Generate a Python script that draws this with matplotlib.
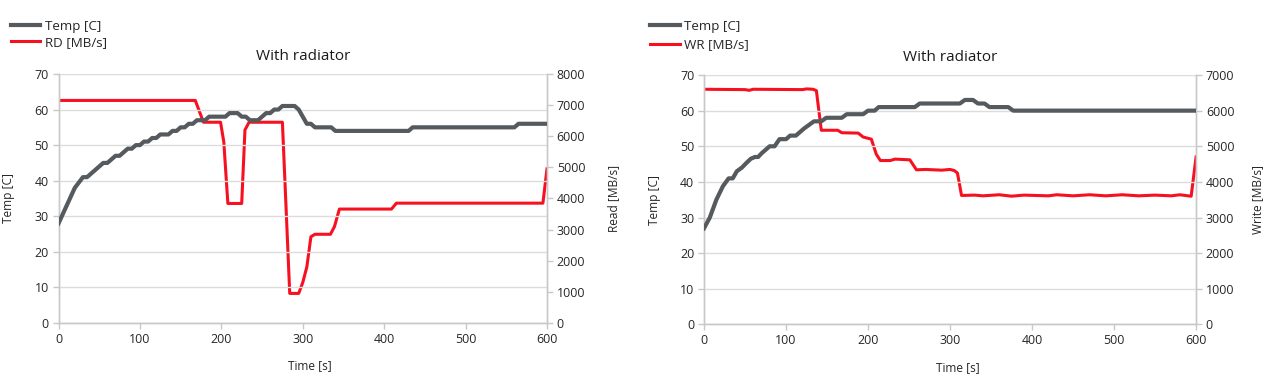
import matplotlib
matplotlib.use("Agg")
import matplotlib.pyplot as plt
from matplotlib.lines import Line2D

plt.rcParams['font.family'] = ['Open Sans', 'DejaVu Sans']

# ---- left panel: read test ----
rd_temp_t = [0, 5, 10, 15, 20, 25, 30, 35, 40, 45, 50, 55, 60, 65, 70, 75, 80, 85, 90, 95,
             100, 105, 110, 115, 120, 125, 135, 140, 145, 150, 155, 160, 165, 170, 180, 185,
             205, 210, 220, 225, 230, 235, 245, 250, 255, 260, 265, 270, 275, 290, 295, 300,
             305, 310, 315, 335, 340, 430, 435, 560, 565, 600]
rd_temp = [28, 30.5, 33, 35.5, 38, 39.5, 41, 41, 42, 43, 44, 45, 45, 46, 47, 47, 48, 49, 49, 50,
           50, 51, 51, 52, 52, 53, 53, 54, 54, 55, 55, 56, 56, 57, 57, 58,
           58, 59, 59, 58, 58, 57, 57, 58, 59, 59, 60, 60, 61, 61, 60, 58,
           56, 56, 55, 55, 54, 54, 55, 55, 56, 56]

rd_t = [0, 168, 173, 178, 199, 203, 208, 225, 229, 234, 275, 284, 295, 300, 305, 310,
        315, 334, 339, 345, 409, 415, 595, 600]
rd_mbs = [7150, 7150, 6800, 6450, 6450, 5820, 3840, 3840, 6200, 6450, 6450, 950, 950, 1300, 1800, 2770,
          2850, 2850, 3100, 3660, 3660, 3850, 3850, 4950]

# ---- right panel: write test ----
wr_temp_t = [0, 7, 15, 23, 30, 35, 40, 46, 52, 57, 62, 66, 70, 75, 80, 86, 92, 100, 105, 112,
             117, 122, 128, 134, 143, 149, 168, 174, 194, 200, 208, 213, 257, 263, 312, 318,
             328, 334, 342, 348, 371, 377, 600]
wr_temp = [27, 30, 35, 38.8, 41, 41, 43, 44, 45.4, 46.5, 47, 47, 48, 49, 50, 50, 52, 52, 53, 53,
           54, 55, 56, 57, 57, 58, 58, 59, 59, 60, 60, 61, 61, 62, 62, 63,
           63, 62, 62, 61, 61, 60, 60]

wr_t = [0, 50, 55, 60, 120, 125, 133, 137, 140, 143, 163, 168, 188, 194, 204, 210, 215, 227,
        233, 251, 255, 259, 270, 290, 300, 305, 309, 314, 330, 340, 360, 375, 390, 420, 430,
        450, 470, 490, 510, 530, 550, 570, 580, 594, 600]
wr_mbs = [6600, 6590, 6570, 6600, 6590, 6610, 6600, 6560, 6000, 5450, 5450, 5380, 5370, 5260, 5200,
          4780, 4600, 4600, 4640, 4620, 4480, 4340, 4350, 4330, 4350, 4320, 4250, 3620, 3630,
          3610, 3640, 3600, 3630, 3610, 3640, 3610, 3640, 3610, 3640, 3610, 3630, 3610, 3640,
          3600, 4700]

temp_ticks = list(range(0, 71, 10))
rd_ticks = list(range(0, 8001, 1000))
wr_ticks = list(range(0, 7001, 1000))

GRAY = '#555a5e'
RED = '#f7101f'
GRID = '#dcdcdc'
SPINE = '#c8c8c8'
TXT = '#262626'


def draw_panel(fig, rect, temp_t, temp, speed_t, speed, speed_ticks,
               speed_name, speed_label, right_lab_x, left_lab_x, leg_x, leg_gap):
    ax = fig.add_axes(rect)
    ax2 = ax.twinx()

    ax.plot(temp_t, temp, color=GRAY, lw=3.0, solid_joinstyle='round', zorder=3)
    ax2.plot(speed_t, speed, color=RED, lw=2.2, solid_joinstyle='round')
    # keep temperature on top like the original
    ax.set_zorder(ax2.get_zorder() + 1)
    ax.patch.set_visible(False)

    ax.set_xlim(0, 600)
    ax.set_ylim(0, 70)
    ax.set_yticks(temp_ticks)
    ax.set_xticks(range(0, 601, 100))
    ax2.set_ylim(0, speed_ticks[-1])
    ax2.set_yticks(speed_ticks)

    ax.grid(axis='y', color=GRID, lw=1.0)
    ax.set_axisbelow(True)

    for a in (ax, ax2):
        a.spines['top'].set_visible(False)
        for side in ('left', 'bottom', 'right'):
            a.spines[side].set_color(SPINE)
            a.spines[side].set_linewidth(1.0)
        a.tick_params(length=4, width=1, color=SPINE, labelsize=8.9,
                      labelcolor=TXT, pad=3)

    ax.set_title('With radiator', fontsize=11, color='#1a1a1a', pad=10)
    ax.set_xlabel('Time [s]', fontsize=8.6, color=TXT)
    ax.xaxis.set_label_coords(0.515, -0.145)
    ax.set_ylabel('Temp [C]', fontsize=8.6, color=TXT)
    ax.yaxis.set_label_coords(left_lab_x, 0.5)
    ax2.set_ylabel(speed_label, fontsize=8.6, color=TXT)
    ax2.yaxis.set_label_coords(right_lab_x, 0.5)

    handles = [Line2D([], [], color=GRAY, lw=3.0),
               Line2D([], [], color=RED, lw=2.2)]
    fig.legend(handles, ['Temp [C]', speed_name], loc='upper left',
               bbox_to_anchor=(leg_x, 0.968), frameon=False, fontsize=9.6,
               handlelength=2.2, handletextpad=0.35, labelspacing=leg_gap,
               borderaxespad=0.2, labelcolor=TXT)
    return ax, ax2


fig = plt.figure(figsize=(12.78, 3.79), dpi=100)

draw_panel(fig, [0.0458, 0.1478, 0.3822, 0.657], rd_temp_t, rd_temp, rd_t, rd_mbs,
           rd_ticks, 'RD [MB/s]', 'Read [MB/s]', 1.122, -0.089, 0.002, 0.2)
draw_panel(fig, [0.5509, 0.1438, 0.385, 0.6583], wr_temp_t, wr_temp, wr_t, wr_mbs,
           wr_ticks, 'WR [MB/s]', 'Write [MB/s]', 1.111, -0.087, 0.5025, 0.4)

fig.savefig('out.png', dpi=100, facecolor='white')
